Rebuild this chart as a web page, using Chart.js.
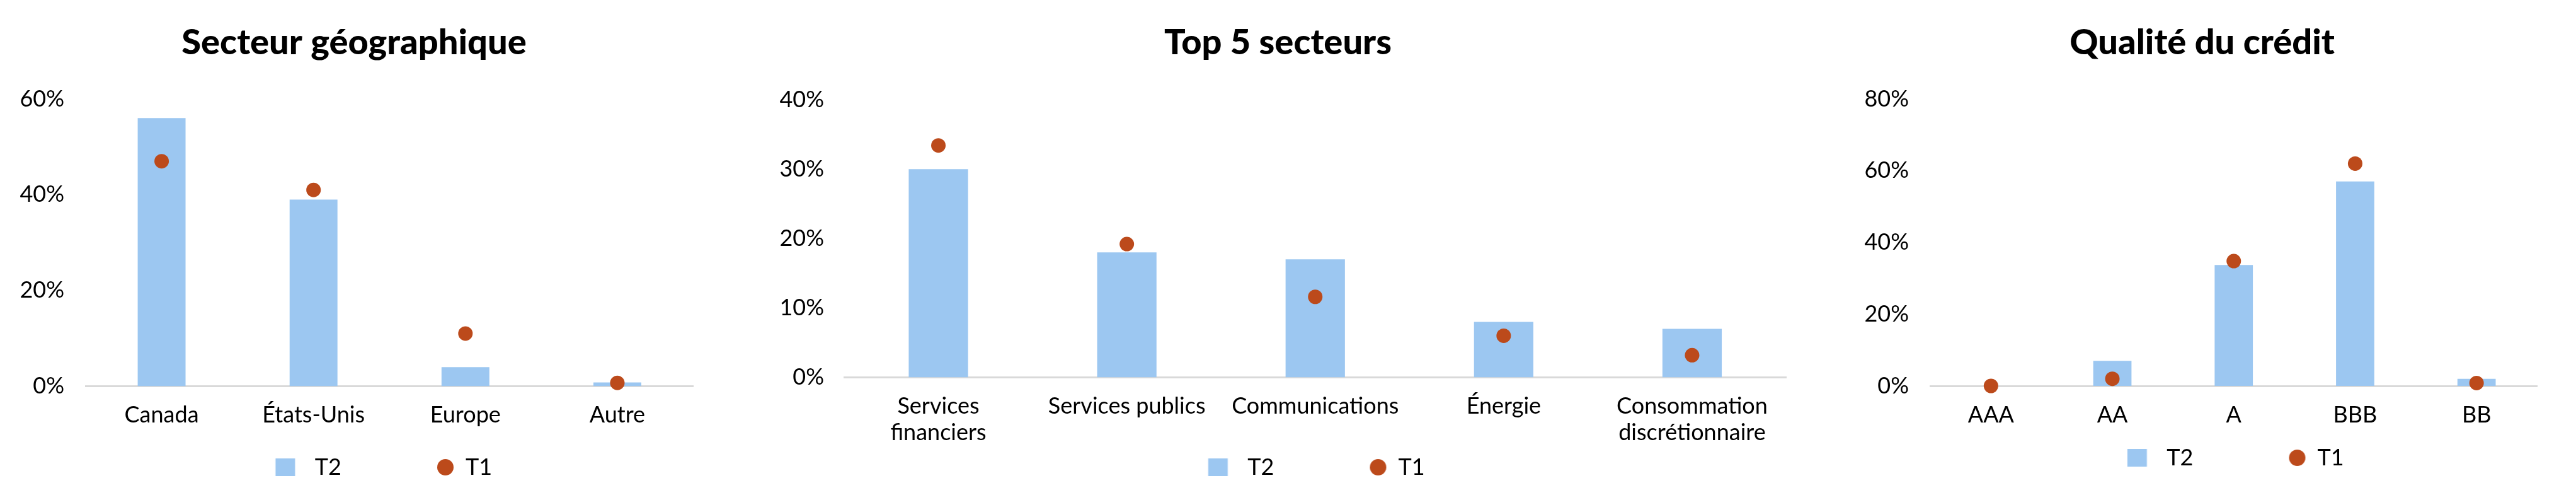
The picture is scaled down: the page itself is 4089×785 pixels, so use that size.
<!DOCTYPE html>
<html>
<head>
<meta charset="utf-8">
<script src="https://cdn.jsdelivr.net/npm/chart.js@4"></script>
<style>
  html, body { margin: 0; padding: 0; background: #fff; overflow: hidden; }
  .box { position: absolute; top: 0; height: 785px; }
</style>
</head>
<body>
<div class="box" style="left:0px;width:1112px"><canvas id="geo"></canvas></div>
<div class="box" style="left:1160px;width:1687px"><canvas id="sector"></canvas></div>
<div class="box" style="left:2900px;width:1139px"><canvas id="credit"></canvas></div>
<script>
// values in %
const geoLabels = ["Canada", "États-Unis", "Europe", "Autre"];
const geoT2 = [56, 39, 4, 0.8];
const geoT1 = [47, 41, 11, 0.7];
const geoTicks = [0, 20, 40, 60];

const sectorLabels = [["Services", "financiers"], "Services publics", "Communications", "Énergie", ["Consommation", "discrétionnaire"]];
const sectorT2 = [30, 18, 17, 8, 7];
const sectorT1 = [33.4, 19.2, 11.6, 6, 3.2];
const sectorTicks = [0, 10, 20, 30, 40];

const creditLabels = ["AAA", "AA", "A", "BBB", "BB"];
const creditT2 = [0, 7, 33.7, 57, 2];
const creditT1 = [0, 2, 34.8, 62, 0.8];
const creditTicks = [0, 20, 40, 60, 80];

const BLUE = "#9CC7F1";
const RUST = "#BC4A1B";
const FONT = "Lato";

Chart.defaults.font.family = FONT;
Chart.defaults.color = "#000";

// legend marker drawn at the right end of a box of width w
function marker(kind, w) {
  const c = document.createElement("canvas");
  c.width = w;
  c.height = 28;
  const g = c.getContext("2d");
  g.fillStyle = kind === "rect" ? BLUE : RUST;
  if (kind === "rect") {
    g.fillRect(w - 29 - 15.5, 0, 31, 28);
  } else {
    g.beginPath();
    g.arc(w - 14, 14, 13, 0, Math.PI * 2);
    g.fill();
  }
  return c;
}

function buildChart(id, o) {
  const ticks = o.ticks;
  const boxW = 179 - o.lp;
  const squareMark = marker("rect", boxW);
  const dotMark = marker("dot", boxW);
  new Chart(document.getElementById(id), {
    type: "bar",
    data: {
      labels: o.labels,
      datasets: [
        {
          type: "bar",
          label: "T2",
          data: o.t2,
          backgroundColor: BLUE,
          barPercentage: 0.315,
          categoryPercentage: 1,
          order: 1,
        },
        {
          type: "line",
          label: "T1",
          data: o.t1,
          showLine: false,
          pointRadius: 11.5,
          pointHoverRadius: 11.5,
          pointBackgroundColor: RUST,
          pointBorderColor: RUST,
          pointBorderWidth: 0,
          clip: false,
          order: 0,
        },
      ],
    },
    options: {
      responsive: true,
      maintainAspectRatio: false,
      animation: false,
      layout: { padding: { left: o.padL, right: 0, top: 0, bottom: o.padB } },
      plugins: {
        tooltip: { enabled: false },
        title: {
          display: true,
          text: o.title,
          color: "#000",
          font: { family: FONT, size: 56, weight: "900", lineHeight: 1 },
          padding: { top: 40, bottom: o.titleBottom },
        },
        legend: {
          position: "bottom",
          labels: {
            usePointStyle: true,
            pointStyleWidth: boxW,
            padding: o.lp,
            color: "#000",
            font: { family: FONT, size: 36 },
            generateLabels: (chart) =>
              Chart.defaults.plugins.legend.labels
                .generateLabels(chart)
                .sort((a, b) => a.datasetIndex - b.datasetIndex)
                .map((item) => ({
                  ...item,
                  pointStyle: item.datasetIndex === 0 ? squareMark : dotMark,
                })),
          },
        },
      },
      scales: {
        x: {
          grid: { display: false, drawTicks: false },
          border: { color: "#D9D9D9", width: 3 },
          ticks: {
            padding: 25,
            maxRotation: 0,
            autoSkip: false,
            color: "#000",
            font: { family: FONT, size: 36, lineHeight: 1.17 },
          },
          afterFit: (s) => {
            s.height = o.xh;
          },
        },
        y: {
          min: ticks[0],
          max: ticks[ticks.length - 1],
          grid: { display: false, drawTicks: false },
          border: { display: false },
          ticks: {
            stepSize: ticks[1] - ticks[0],
            padding: o.tickPad,
            color: "#000",
            font: { family: FONT, size: 36 },
            callback: (v) => v + "%",
          },
          afterFit: (s) => {
            s.width = o.yW;
          },
        },
      },
    },
  });
}

buildChart("geo", {
  title: "Secteur géographique",
  labels: geoLabels,
  t2: geoT2,
  t1: geoT1,
  ticks: geoTicks,
  padL: 12,
  yW: 124,
  tickPad: 34,
  titleBottom: 61,
  lp: 40,
  xh: 70.5,
  padB: 16,
});

buildChart("sector", {
  title: "Top 5 secteurs",
  labels: sectorLabels,
  t2: sectorT2,
  t1: sectorT1,
  ticks: sectorTicks,
  padL: 50,
  yW: 130,
  tickPad: 32,
  titleBottom: 62,
  lp: 12,
  xh: 112.5,
  padB: 16,
});

buildChart("credit", {
  title: "Qualité du crédit",
  labels: creditLabels,
  t2: creditT2,
  t1: creditT1,
  ticks: creditTicks,
  padL: 52,
  yW: 112,
  tickPad: 34,
  titleBottom: 61,
  lp: 28,
  xh: 68,
  padB: 31,
});
</script>
</body>
</html>
